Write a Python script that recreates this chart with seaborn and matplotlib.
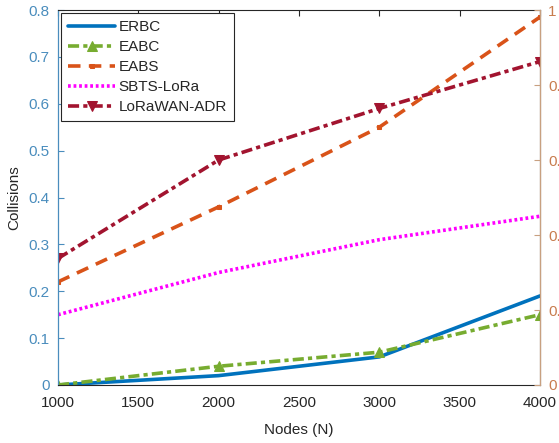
import matplotlib
matplotlib.use("Agg")
import matplotlib.pyplot as plt
import seaborn as sns
import pandas as pd

nodes = [1000, 2000, 3000, 4000]
erbc = [0.0, 0.02, 0.06, 0.19]
eabc = [0.0, 0.04, 0.07, 0.15]
eabs = [0.22, 0.38, 0.55, 0.785]
sbts = [0.15, 0.24, 0.31, 0.36]
lorawan = [0.27, 0.48, 0.59, 0.69]
x_ticks = [1000, 1500, 2000, 2500, 3000, 3500, 4000]
left_ticks = [0, 0.1, 0.2, 0.3, 0.4, 0.5, 0.6, 0.7, 0.8]
left_labels = ["0", "0.1", "0.2", "0.3", "0.4", "0.5", "0.6", "0.7", "0.8"]
right_ticks = [0, 0.2, 0.4, 0.6, 0.8, 1.0]
right_labels = ["0", "0.2", "0.4", "0.6", "0.8", "1"]

sns.set_style("white")
plt.rcParams['font.family'] = ['Liberation Sans', 'DejaVu Sans']
plt.rcParams['lines.scale_dashes'] = False

fig = plt.figure(figsize=(5.59, 4.43), dpi=100)
ax = fig.add_axes([58/559, 58/443, (540-58)/559, (385-10)/443])

series = [
    ("ERBC", erbc, "#0072BD", "-", None, 0),
    ("EABC", eabc, "#77AC30", (0, (8, 3, 3, 3)), "^", 7),
    ("EABS", eabs, "#D95319", (0, (9, 6)), "s", 3),
    ("SBTS-LoRa", sbts, "#FF00FF", (0, (2, 2)), None, 0),
    ("LoRaWAN-ADR", lorawan, "#A2142F", (0, (8, 3, 3, 3)), "v", 7),
]
for name, vals, col, ls, mk, ms in series:
    df = pd.DataFrame({"Nodes": nodes, "Collisions": vals})
    kw = dict(color=col, linestyle=ls, linewidth=2.6, label=name)
    if mk:
        kw.update(marker=mk, markersize=ms, markeredgecolor=col, markerfacecolor=col)
    sns.lineplot(data=df, x="Nodes", y="Collisions", ax=ax, **kw)

left_col = "#4a8dbd"
right_col = "#c87c4e"
ax.set_xlim(1000, 4000)
ax.set_ylim(0, 0.8)
ax.set_xticks(x_ticks)
ax.set_xticklabels([str(t) for t in x_ticks])
ax.set_yticks(left_ticks)
ax.set_yticklabels(left_labels)
ax.set_xlabel("Nodes (N)", fontsize=11, color="#262626", labelpad=9)
ax.set_ylabel("Collisions", fontsize=11, color="#262626", labelpad=5)
ax.tick_params(axis='x', direction='in', length=4, labelsize=11, colors="#262626", top=True, pad=8)
ax.tick_params(axis='y', direction='in', length=4, labelsize=11, labelcolor=left_col, color=left_col, pad=6)
for s in ["top", "bottom"]:
    ax.spines[s].set_color("#262626")
    ax.spines[s].set_linewidth(0.8)
ax.spines["left"].set_color(left_col)
ax.spines["left"].set_linewidth(0.9)

ax2 = ax.twinx()
ax2.set_ylim(0, 1)
ax2.set_yticks(right_ticks)
ax2.set_yticklabels(right_labels)
ax2.tick_params(axis='y', direction='in', length=4, labelsize=11, labelcolor=right_col, color="#c8a080", pad=6)
ax2.spines["right"].set_color("#c8a080")
ax2.spines["right"].set_linewidth(0.9)
for s in ["top", "bottom", "left"]:
    ax2.spines[s].set_visible(False)

h, l = ax.get_legend_handles_labels()
leg = ax.legend(h, l, loc="upper left", fontsize=11, frameon=True, fancybox=False,
                framealpha=1, edgecolor="#262626", handlelength=3.1, handletextpad=0.2,
                borderpad=0.45, labelspacing=0.4, borderaxespad=0.2)
leg.get_frame().set_linewidth(0.8)

fig.savefig("out.png", dpi=100)
